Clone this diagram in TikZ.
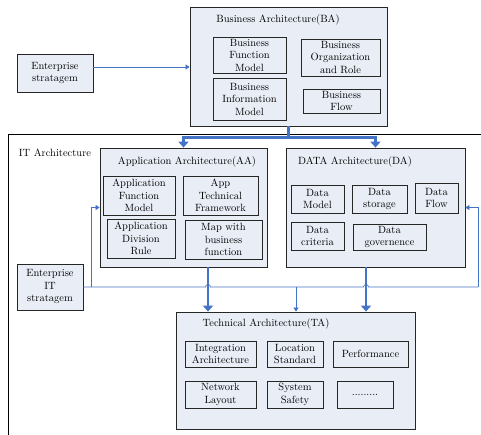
\documentclass[tikz,border=0pt]{standalone}
\usepackage{tikz}
\usetikzlibrary{arrows.meta}
\usetikzlibrary{positioning}
\definecolor{mfill}{RGB}{232, 237, 246}
\definecolor{mblue}{RGB}{68, 114, 196}
\tikzset{layer/.style = {draw=black!85, fill=mfill, line width=0.8pt, inner sep=0}}
\tikzset{part/.style = {draw=black!85, fill=mfill, line width=0.7pt, align=center, inner sep=1pt}}
\tikzset{link/.style = {mblue, line width=0.7pt, -{Triangle[length=4pt, width=5pt]}}}
\tikzset{flow/.style = {mblue, line width=2.2pt, -{Triangle[length=6pt, width=10pt]}}}

\begin{document}
\begin{tikzpicture}[x=1pt, y=-1pt, font=\fontsize{10.5}{12.5}\selectfont]
    \useasboundingbox (0, 0) rectangle (481, 434);

    \draw [line width=0.8pt] (8, 440) -- (8, 134) -- (490, 134);
    \node at (55, 153) {IT Architecture};

    \node [part, minimum width=76, minimum height=38] (es) at (55, 73) {Enterprise\\stratagem};
    \node [part, minimum width=66, minimum height=46] (eit) at (50, 287) {Enterprise\\IT\\stratagem};

    \node [layer, minimum width=197, minimum height=119] (ba) at (288.5, 66.5) {};
    \node at (278, 20) {Business Architecture(BA)};
    \node [part, minimum width=73, minimum height=36] (bfm) at (249.5, 55) {Business\\Function\\Model};
    \node [part, minimum width=79, minimum height=37] (bor) at (340.5, 57.5) {Business\\Organization\\and Role};
    \node [part, minimum width=73, minimum height=42] (bim) at (249.5, 99) {Business\\Information\\Model};
    \node [part, minimum width=77, minimum height=24] (bfl) at (341.5, 101) {Business\\Flow};

    \node [layer, minimum width=167, minimum height=119] (aa) at (183.5, 207.5) {};
    \node at (187, 162) {Application Architecture(AA)};
    \node [part, minimum width=72, minimum height=39] (afm) at (139, 195.5) {Application\\Function\\Model};
    \node [part, minimum width=75, minimum height=39] (atf) at (220.5, 195.5) {App\\Technical\\Framework};
    \node [part, minimum width=68, minimum height=39] (adr) at (141, 238.5) {Application\\Division\\Rule};
    \node [part, minimum width=77, minimum height=39] (mbf) at (223.5, 239.5) {Map with\\business\\function};

    \node [layer, minimum width=179, minimum height=119] (da) at (375.5, 207.5) {};
    \node at (355, 162) {DATA Architecture(DA)};
    \node [part, minimum width=53, minimum height=28] (dm) at (317.5, 199) {Data\\Model};
    \node [part, minimum width=55, minimum height=28] (dst) at (379.5, 199) {Data\\storage};
    \node [part, minimum width=43, minimum height=30] (dfl) at (436.5, 198) {Data\\Flow};
    \node [part, minimum width=53, minimum height=28] (dcr) at (317.5, 236) {Data\\criteria};
    \node [part, minimum width=73, minimum height=26] (dgv) at (389.5, 237) {Data\\governence};

    \node [layer, minimum width=239, minimum height=117] (ta) at (295.5, 370.5) {};
    \node at (266, 324) {Technical Architecture(TA)};
    \node [part, minimum width=71, minimum height=26] (iar) at (220.5, 354) {Integration\\Architecture};
    \node [part, minimum width=56, minimum height=26] (lst) at (295, 354) {Location\\Standard};
    \node [part, minimum width=75, minimum height=26] (prf) at (370.5, 354) {Performance};
    \node [part, minimum width=71, minimum height=27] (nly) at (220.5, 394.5) {Network\\Layout};
    \node [part, minimum width=56, minimum height=27] (ssf) at (295, 394.5) {System\\Safety};
    \node [part, minimum width=56, minimum height=27] (dts) at (365, 394.5) {.........};

    \draw [link] ([yshift=6pt]es.east) -- ([yshift=6pt]es.east -| ba.west);

    \draw [flow, -] (ba.south) -- ++(0, 11) coordinate (split);
    \draw [flow] (split) -| (aa.north);
    \draw [flow] (split) -| (da.north);

    % thick links down to TA
    \draw [flow] ([xshift=24.5pt]aa.south) -- ([xshift=24.5pt]aa.south |- ta.north);
    \draw [flow] ([xshift=-9.5pt]da.south) -- ([xshift=-9.5pt]da.south |- ta.north);

    % IT stratagem bus
    \draw [link, -] (eit.east) -- (205.5, 287) arc (180:360:2.5) -- (363.5, 287) arc (180:360:2.5) -- (478, 287) coordinate (busend);
    \draw [link] (91, 287) |- (aa.west);
    \draw [link] (busend) |- (da.east);
    \draw [link] (296, 287) -- (296, 287 |- ta.north);
  \end{tikzpicture}
\end{document}
